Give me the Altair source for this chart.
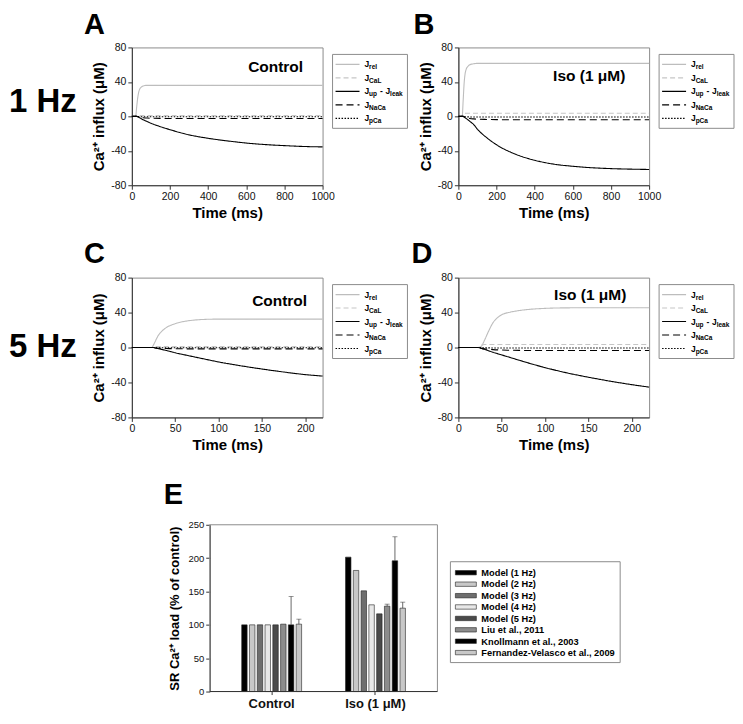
import altair as alt
import pandas as pd

FONT = "Liberation Sans"
ONE = pd.DataFrame({"k": [0]})

# ---------------- line panels (A-D) ----------------
SERIES = ["J_rel", "J_CaL", "J_up - J_leak", "J_NaCa", "J_pCa"]
LINE_COLORS = ["#bdbdbd", "#c6c6c6", "#000000", "#000000", "#000000"]
LINE_DASHES = [[1, 0], [5, 3], [1, 0], [7, 4], [1.5, 1.5]]

# 1 Hz time grid (ms)
T1 = [0, 20, 25, 30, 35, 40, 50, 60, 80, 100, 150, 200, 300, 400, 500, 600, 700, 800, 900, 1000]
A_rel = [0, 0, 10, 20, 27, 31, 34, 35.3, 36, 36, 36, 36, 36, 36, 36, 36, 36, 36, 36, 36]
A_CaL = [0, 0, 0.5, 1, 1, 1, 1, 1, 1, 1, 1, 1, 1, 1, 1, 1, 1, 1, 1, 1]
A_up = [0, 0, 0, -0.5, -1, -1.5, -2.8, -4, -6, -8, -12, -15.5, -21.5, -25.5, -28.5, -31, -32.8, -34, -35, -35.5]
A_NaCa = [0, 0, 0, -0.3, -0.6, -0.9, -1.3, -1.6, -2, -2.2, -2.4, -2.5, -2.5, -2.5, -2.5, -2.5, -2.5, -2.5, -2.5, -2.5]
A_pCa = [0, 0, 0, -0.1, -0.2, -0.3, -0.4, -0.5, -0.5, -0.5, -0.5, -0.5, -0.5, -0.5, -0.5, -0.5, -0.5, -0.5, -0.5, -0.5]

B_rel = [0, 0, 18, 38, 49, 54, 58, 60, 61, 61.5, 61.5, 61.5, 61.5, 61.5, 61.5, 61.5, 61.5, 61.5, 61.5, 61.5]
B_CaL = [0, 0, 1.5, 3, 3.5, 3.5, 3.5, 3.5, 3.5, 3.5, 3.5, 3.5, 3.5, 3.5, 3.5, 3.5, 3.5, 3.5, 3.5, 3.5]
B_up = [0, 0, 0, -0.8, -1.6, -2.4, -4, -5.8, -9.5, -15, -25, -33, -44, -51, -55.5, -58, -59.7, -60.7, -61.3, -61.7]
B_NaCa = [0, 0, 0, -0.5, -1, -1.5, -2, -2.5, -3, -3.3, -3.6, -3.8, -4, -4, -4, -4, -4, -4, -4, -4]
B_pCa = [0, 0, 0, -0.2, -0.4, -0.5, -0.6, -0.7, -0.8, -0.8, -0.8, -0.8, -0.8, -0.8, -0.8, -0.8, -0.8, -0.8, -0.8, -0.8]

# 5 Hz time grid (ms)
T2 = [0, 20, 23, 25, 27, 30, 35, 40, 45, 50, 60, 70, 80, 100, 125, 150, 175, 200, 220]
C_rel = [0, 0, 0, 3, 7, 13, 19, 23, 25.5, 27.3, 29.8, 31.2, 32, 32.5, 32.5, 32.5, 32.5, 32.5, 32.5]
C_CaL = [0, 0, 0, 0.5, 1, 1, 1, 1, 1, 1, 1, 1, 1, 1, 1, 1, 1, 1, 1]
C_up = [0, 0, 0, 0, -0.5, -1.2, -2.3, -3.5, -4.7, -6, -8.2, -10.3, -12.4, -16.5, -20.8, -24.6, -28, -31, -32.7]
C_NaCa = [0, 0, 0, -0.2, -0.5, -0.8, -1, -1.2, -1.3, -1.4, -1.5, -1.5, -1.5, -1.5, -1.5, -1.5, -1.5, -1.5, -1.5]
C_pCa = [0, 0, 0, 0, -0.1, -0.2, -0.3, -0.3, -0.3, -0.3, -0.3, -0.3, -0.3, -0.3, -0.3, -0.3, -0.3, -0.3, -0.3]

D_rel = [0, 0, 0, 0.5, 2, 8, 19, 28.5, 34, 37.5, 40.5, 42.3, 43.5, 44.8, 45.4, 45.5, 45.5, 45.5, 45.5]
D_CaL = [0, 0, 0, 1.5, 3, 3.5, 3.5, 3.5, 3.5, 3.5, 3.5, 3.5, 3.5, 3.5, 3.5, 3.5, 3.5, 3.5, 3.5]
D_up = [0, 0, 0, -0.5, -1.2, -2, -3.8, -5.5, -7, -8.5, -11.5, -14.5, -17.5, -23, -29, -34, -38.5, -42.5, -45.3]
D_NaCa = [0, 0, 0, -0.5, -1, -1.5, -2, -2.4, -2.7, -2.9, -3.1, -3.3, -3.4, -3.5, -3.5, -3.5, -3.5, -3.5, -3.5]
D_pCa = [0, 0, 0, -0.1, -0.2, -0.3, -0.4, -0.5, -0.5, -0.5, -0.5, -0.5, -0.5, -0.5, -0.5, -0.5, -0.5, -0.5, -0.5]

X1_TICKS = [0, 200, 400, 600, 800, 1000]
X2_TICKS = [0, 50, 100, 150, 200]
Y_TICKS = [-80, -40, 0, 40, 80]

# legend text pieces: (text, x, fontsize, dy)
LEG_PIECES = [
    [("J", 233, 8.5, 3), ("rel", 237.6, 6.5, 5)],
    [("J", 233, 8.5, 3), ("CaL", 237.6, 6.5, 5)],
    [("J", 233, 8.5, 3), ("up", 237.6, 6.5, 5), ("-", 248.5, 8.5, 3), ("J", 254, 8.5, 3), ("leak", 258.6, 6.5, 5)],
    [("J", 233, 8.5, 3), ("NaCa", 237.6, 6.5, 5)],
    [("J", 233, 8.5, 3), ("pCa", 237.6, 6.5, 5)],
]
LEG_ROWS = [17, 30.5, 44, 57.5, 71]
NO_UNICODE_MINUS = "replace(datum.label, '\u2212', '-')"


def text_layer(s, x, y, size, bold=True, align="left", baseline="alphabetic", color="black"):
    return alt.Chart(ONE).mark_text(
        text=s, fontSize=size, fontWeight="bold" if bold else "normal",
        align=align, baseline=baseline, font=FONT, color=color
    ).encode(x=alt.value(x), y=alt.value(y))


def line_panel(times, vals, xmax, xticks, w, h, letter, letter_xy, note, note_xy, row_label=None):
    rows = []
    for s, arr in zip(SERIES, vals):
        for t, v in zip(times, arr):
            rows.append({"t": t, "v": v, "series": s})
    df = pd.DataFrame(rows)
    lines = alt.Chart(df).mark_line(interpolate="monotone", strokeWidth=1.1).encode(
        x=alt.X("t:Q", scale=alt.Scale(domain=[0, xmax], nice=False, zero=False),
                axis=alt.Axis(values=xticks, format="d", title="Time (ms)", labelFlush=False, labelOverlap=False)),
        y=alt.Y("v:Q", scale=alt.Scale(domain=[-80, 80], nice=False),
                axis=alt.Axis(values=Y_TICKS, title="Ca²⁺ influx (μM)", labelOverlap=False,
                              labelExpr=NO_UNICODE_MINUS)),
        color=alt.Color("series:N", scale=alt.Scale(domain=SERIES, range=LINE_COLORS), legend=None),
        strokeDash=alt.StrokeDash("series:N", scale=alt.Scale(domain=SERIES, range=LINE_DASHES), legend=None),
    )
    layers = [lines]
    layers.append(alt.Chart(ONE).mark_rect(fill="white", stroke="#8c8c8c", strokeWidth=1).encode(
        x=alt.value(201), x2=alt.value(276), y=alt.value(7), y2=alt.value(81)))
    for i in range(len(SERIES)):
        yy = LEG_ROWS[i]
        layers.append(alt.Chart(ONE).mark_rule(color=LINE_COLORS[i], strokeDash=LINE_DASHES[i], strokeWidth=1.1).encode(
            x=alt.value(204), x2=alt.value(228), y=alt.value(yy)))
        for (s, x, fs, dy) in LEG_PIECES[i]:
            layers.append(text_layer(s, x, yy + dy, fs))
    layers.append(text_layer(note, note_xy[0], note_xy[1], 15.5, align="center"))
    layers.append(text_layer(letter, letter_xy[0], letter_xy[1], 29))
    if row_label:
        layers.append(text_layer(row_label[0], row_label[1], row_label[2], 33))
    return alt.layer(*layers).properties(width=w, height=h)


A = line_panel(T1, [A_rel, A_CaL, A_up, A_NaCa, A_pCa], 1000, X1_TICKS, 191, 138,
               "A", (-48, -13), "Control", (144, 25), ("1 Hz", -123, 65))
B = line_panel(T1, [B_rel, B_CaL, B_up, B_NaCa, B_pCa], 1000, X1_TICKS, 191, 138,
               "B", (-45, -13), "Iso (1 μM)", (131, 34))
C = line_panel(T2, [C_rel, C_CaL, C_up, C_NaCa, C_pCa], 220, X2_TICKS, 191, 140,
               "C", (-48, -15), "Control", (148, 28), ("5 Hz", -123, 79))
D = line_panel(T2, [D_rel, D_CaL, D_up, D_NaCa, D_pCa], 220, X2_TICKS, 191, 140,
               "D", (-47, -15), "Iso (1 μM)", (132, 22))

# ---------------- bar panel (E) ----------------
GROUPS = ["Control", "Iso (1 μM)"]
SERIES_E = ["Model (1 Hz)", "Model (2 Hz)", "Model (3 Hz)", "Model (4 Hz)", "Model (5 Hz)",
            "Liu et al., 2011", "Knollmann et al., 2003", "Fernandez-Velasco et al., 2009"]
BAR_COLORS = ["#000000", "#c8c8c8", "#6e6e6e", "#e8e8e8", "#4a4a4a", "#8c8c8c", "#000000", "#c8c8c8"]
CONTROL_VALUES = [100, 100, 100, 100, 100, 101, 100, 101]
ISO_VALUES = [201.5, 181.5, 151, 130, 116.5, 128, 196, 125]
CONTROL_ERR_TOP = [None, None, None, None, None, None, 142.5, 108.5]
ISO_ERR_TOP = [None, None, None, None, None, 131, 232, 134]
E_TICKS = [0, 50, 100, 150, 200, 250]

bar_rows, err_rows = [], []
for g, vals, errs in [(GROUPS[0], CONTROL_VALUES, CONTROL_ERR_TOP), (GROUPS[1], ISO_VALUES, ISO_ERR_TOP)]:
    for s, v, e in zip(SERIES_E, vals, errs):
        bar_rows.append({"group": g, "series": s, "value": v})
        if e is not None:
            err_rows.append({"group": g, "series": s, "value": v, "top": e})
bar_df = pd.DataFrame(bar_rows)
err_df = pd.DataFrame(err_rows)

EX0, EW, EH = 78, 228, 167   # plot of E sits EX0 px right of the left column edge
xE = alt.X("group:N", sort=GROUPS,
           scale=alt.Scale(range=[EX0, EX0 + EW], paddingInner=0.423, paddingOuter=0.308),
           axis=alt.Axis(title=None, labelAngle=0, labelFontWeight="bold", labelFontSize=13,
                         domain=False, tickSize=3, labelPadding=3))
xoffE = alt.XOffset("series:N", sort=SERIES_E, scale=alt.Scale(paddingInner=0.3, paddingOuter=0))
E_AXIS = alt.Axis(values=E_TICKS, title="SR Ca²⁺ load (% of control)", titleFontSize=13,
                  labelFontSize=9.5, titlePadding=6, offset=-EX0, labelOverlap=False)
E_SCALE = alt.Scale(domain=[0, 250], nice=False)


def yE(field):
    return alt.Y(field, scale=E_SCALE, axis=E_AXIS)


frame = alt.Chart(ONE).mark_rect(filled=False, stroke="#8c8c8c", strokeWidth=1).encode(
    x=alt.value(EX0), x2=alt.value(EX0 + EW), y=alt.value(0), y2=alt.value(EH))
baseline_rule = alt.Chart(ONE).mark_rule(color="#333333", strokeWidth=1).encode(
    x=alt.value(EX0), x2=alt.value(EX0 + EW), y=alt.value(EH))
bars = alt.Chart(bar_df).mark_bar(stroke="#222222", strokeWidth=0.6).encode(
    x=xE, xOffset=xoffE, y=yE("value:Q"),
    fill=alt.Fill("series:N", sort=SERIES_E, scale=alt.Scale(domain=SERIES_E, range=BAR_COLORS), legend=None),
)
err_rule = alt.Chart(err_df).mark_rule(color="#444444", strokeWidth=0.8).encode(
    x=xE, xOffset=xoffE, y=yE("value:Q"), y2="top:Q")
err_cap = alt.Chart(err_df).mark_tick(color="#444444", thickness=0.8, size=5).encode(
    x=xE, xOffset=xoffE, y=yE("top:Q"))

e_layers = [frame, bars, err_rule, err_cap, baseline_rule]
e_layers.append(alt.Chart(ONE).mark_rect(fill="white", stroke="#8c8c8c", strokeWidth=1).encode(
    x=alt.value(EX0 + 241), x2=alt.value(EX0 + 411), y=alt.value(37), y2=alt.value(138)))
E_ROWS = [48, 59.5, 71, 82.3, 93.8, 105.2, 116.6, 128]
for i, s in enumerate(SERIES_E):
    yy = E_ROWS[i]
    e_layers.append(alt.Chart(ONE).mark_rect(fill=BAR_COLORS[i], stroke="#222222", strokeWidth=0.6).encode(
        x=alt.value(EX0 + 246), x2=alt.value(EX0 + 267), y=alt.value(yy - 2.2), y2=alt.value(yy + 2.2)))
    e_layers.append(text_layer(s, EX0 + 272, yy + 3.3, 9.3))
e_layers.append(text_layer("E", EX0 - 46, -21, 29))
E = alt.layer(*e_layers).properties(width=EX0 + EW, height=EH, view=alt.ViewBackground(strokeOpacity=0))


def spacer(w, h):
    return alt.Chart(ONE).mark_text(text="").properties(
        width=w, height=h, view=alt.ViewBackground(strokeOpacity=0))


chart = alt.concat(
    A, spacer(21, 1), B,
    C, spacer(21, 155), D,
    E,
    columns=3,
    spacing={"row": 92.5, "column": 0},
    bounds="flush",
    align="each",
).properties(
    padding={"left": 0, "top": 2, "right": 0, "bottom": 0}
).configure_view(
    stroke="#8c8c8c", strokeWidth=1
).configure_axis(
    labelFont=FONT, titleFont=FONT, labelFontSize=10.5, titleFontSize=15, titleFontWeight="bold",
    labelColor="#111111", titleColor="#000000", domainColor="#333333", tickColor="#333333",
    tickSize=4, labelPadding=2, titlePadding=4, grid=False
)

chart.save("out.html", embed_options={"renderer": "svg", "actions": False})
